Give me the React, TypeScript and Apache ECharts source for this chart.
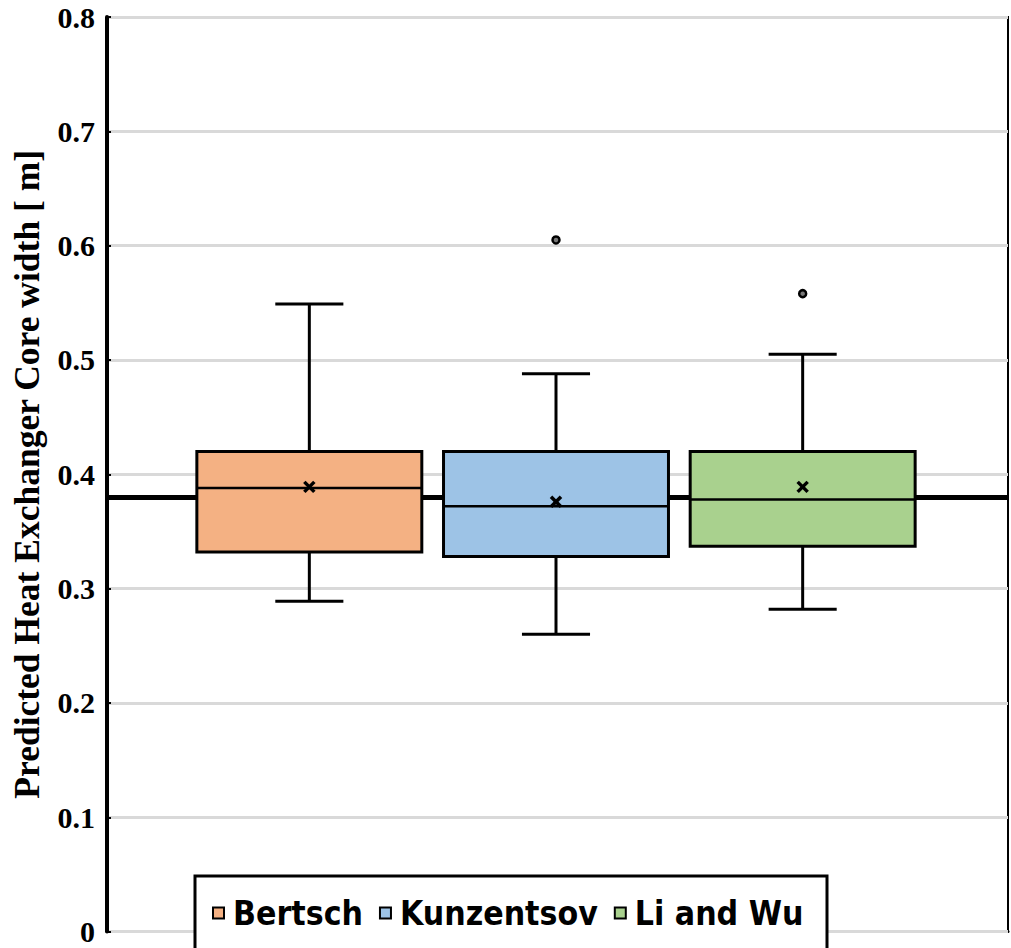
import React, { useEffect, useRef } from "react";
import * as echarts from "echarts";

const categories = ["Bertsch", "Kunzentsov", "Li and Wu"];
const lowWhisker = [0.289, 0.26, 0.282];
const q1 = [0.332, 0.328, 0.337];
const median = [0.388, 0.372, 0.378];
const q3 = [0.42, 0.42, 0.42];
const highWhisker = [0.549, 0.488, 0.505];
const means = [0.389, 0.376, 0.389];
const outliers: number[][] = [[], [0.605], [0.558]];
const referenceValue = 0.3816;
const colors = ["#F4B183", "#9DC3E6", "#A9D18E"];
const yTicks = [0, 0.1, 0.2, 0.3, 0.4, 0.5, 0.6, 0.7, 0.8];

export default function App() {
  const ref = useRef<HTMLDivElement>(null);
  useEffect(() => {
    document.body.style.margin = "0";
    if (!ref.current) return;
    const chart = echarts.init(ref.current, undefined, { renderer: "svg" });

    const boxSeries = categories.map((name, i) => ({
      type: "custom",
      name,
      xAxisIndex: 1,
      yAxisIndex: 1,
      z: 5,
      itemStyle: { color: colors[i] },
      data: [[i, lowWhisker[i], q1[i], median[i], q3[i], highWhisker[i], means[i]]],
      renderItem: (params: any, api: any) => {
        const c = api.value(0);
        const band = api.size([1, 0])[0];
        const bw = band * 0.912;
        const cw = band * 0.276;
        const pLow = api.coord([c, api.value(1)]);
        const pQ1 = api.coord([c, api.value(2)]);
        const pMed = api.coord([c, api.value(3)]);
        const pQ3 = api.coord([c, api.value(4)]);
        const pHigh = api.coord([c, api.value(5)]);
        const pMean = api.coord([c, api.value(6)]);
        const cx = pQ1[0];
        const stroke = { stroke: "#000", lineWidth: 3 };
        const m = 5;
        return {
          type: "group",
          children: [
            { type: "line", shape: { x1: cx, y1: pQ3[1], x2: cx, y2: pHigh[1] }, style: stroke },
            { type: "line", shape: { x1: cx, y1: pQ1[1], x2: cx, y2: pLow[1] }, style: stroke },
            { type: "line", shape: { x1: cx - cw / 2, y1: pHigh[1], x2: cx + cw / 2, y2: pHigh[1] }, style: stroke },
            { type: "line", shape: { x1: cx - cw / 2, y1: pLow[1], x2: cx + cw / 2, y2: pLow[1] }, style: stroke },
            {
              type: "rect",
              shape: { x: cx - bw / 2, y: pQ3[1], width: bw, height: pQ1[1] - pQ3[1] },
              style: { fill: colors[i], stroke: "#000", lineWidth: 3 },
            },
            { type: "line", shape: { x1: cx - bw / 2, y1: pMed[1], x2: cx + bw / 2, y2: pMed[1] }, style: { stroke: "#000", lineWidth: 2.5 } },
            { type: "line", shape: { x1: cx - m, y1: pMean[1] - m, x2: cx + m, y2: pMean[1] + m }, style: { stroke: "#000", lineWidth: 3.5 } },
            { type: "line", shape: { x1: cx + m, y1: pMean[1] - m, x2: cx - m, y2: pMean[1] + m }, style: { stroke: "#000", lineWidth: 3.5 } },
          ],
        };
      },
    }));

    const outlierData: number[][] = [];
    outliers.forEach((arr, i) => arr.forEach((v) => outlierData.push([i, v])));

    chart.setOption({
      animation: false,
      grid: [
        { left: 107, right: 3, top: 17, bottom: 16.4, show: true, borderColor: "#000", borderWidth: 2, backgroundColor: "transparent", containLabel: false, outerBoundsMode: "none" },
        { left: 186, right: 85, top: 17, bottom: 16.4, containLabel: false, outerBoundsMode: "none" },
      ],
      xAxis: [
        {
          type: "category",
          gridIndex: 0,
          data: [""],
          axisLine: { show: true, lineStyle: { color: "#000", width: 3 } },
          axisTick: { show: false },
          axisLabel: { show: false },
        },
        {
          type: "category",
          gridIndex: 1,
          data: categories,
          axisLine: { show: false },
          axisTick: { show: false },
          axisLabel: { show: false },
        },
      ],
      yAxis: [
        {
          type: "value",
          gridIndex: 0,
          min: 0,
          max: 0.8,
          interval: 0.1,
          name: "Predicted Heat Exchanger Core width [ m]",
          nameLocation: "middle",
          nameRotate: 90,
          nameGap: 62,
          nameTextStyle: { fontFamily: "'Liberation Serif', serif", fontWeight: "bold", fontSize: 35.5, color: "#000" },
          axisLine: { show: true, lineStyle: { color: "#000", width: 4 } },
          axisTick: { show: true, inside: true, length: 4, lineStyle: { color: "#000", width: 2 } },
          splitLine: { show: true, lineStyle: { color: "#D9D9D9", width: 3 } },
          axisLabel: {
            fontFamily: "'Liberation Serif', serif",
            fontWeight: "bold",
            fontSize: 30,
            color: "#000",
            margin: 12,
            formatter: (v: number) => {
              const idx = yTicks.findIndex((t) => Math.abs(t - v) < 1e-9);
              if (idx < 0) return "";
              return idx === 0 ? "0" : yTicks[idx].toFixed(1);
            },
          },
          z: 3,
        },
        {
          type: "value",
          gridIndex: 1,
          min: 0,
          max: 0.8,
          interval: 0.1,
          axisLine: { show: false },
          axisTick: { show: false },
          axisLabel: { show: false },
          splitLine: { show: false },
        },
      ],
      legend: {
        data: categories,
        left: 212,
        top: 896,
        padding: 0,
        itemGap: 16,
        itemWidth: 11,
        itemHeight: 11,
        icon: "rect",
        z: 20,
        itemStyle: { borderColor: "#000", borderWidth: 2 },
        textStyle: {
          fontFamily: "'Liberation Sans Narrow', 'DejaVu Sans Condensed', 'Open Sans', sans-serif",
          fontWeight: "bold",
          fontSize: 33.5,
          lineHeight: 34,
          color: "#000",
          padding: [0, 0, 0, 4],
        },
      },
      graphic: [
        {
          type: "rect",
          z: 15,
          shape: { x: 195, y: 876, width: 632, height: 100 },
          style: { fill: "#fff", stroke: "#000", lineWidth: 3 },
        },
      ],
      series: [
        {
          type: "line",
          xAxisIndex: 0,
          yAxisIndex: 0,
          data: [],
          z: 10,
          markLine: {
            silent: true,
            symbol: "none",
            label: { show: false },
            lineStyle: { color: "#000", width: 5, type: "solid" },
            data: [{ yAxis: referenceValue }],
          },
        },
        ...boxSeries,
        {
          type: "scatter",
          name: "outliers",
          xAxisIndex: 1,
          yAxisIndex: 1,
          symbol: "circle",
          symbolSize: 7,
          z: 6,
          itemStyle: { color: "#777", borderColor: "#000", borderWidth: 2.5, opacity: 1 },
          data: outlierData,
        },
      ],
    });
    return () => chart.dispose();
  }, []);
  return <div ref={ref} style={{ position: "absolute", left: 0, top: 0, width: 1011, height: 948 }} />;
}
